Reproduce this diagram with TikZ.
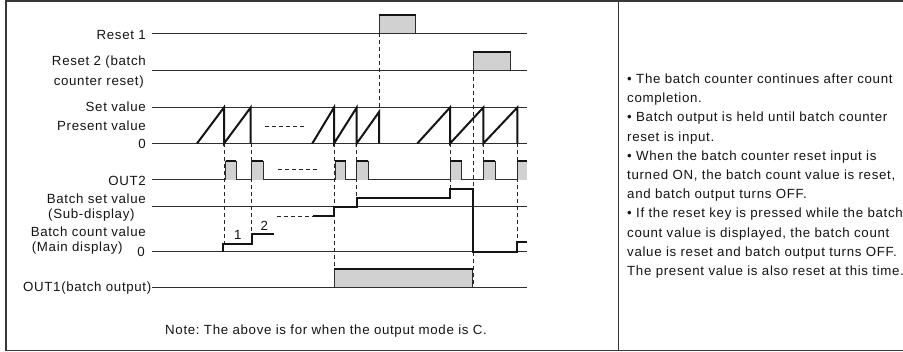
\documentclass[tikz,border=0pt]{standalone}
\usepackage{fontspec}
\setmainfont{Liberation Sans}[LetterSpace=5]
\frenchspacing
\begin{document}
\begin{tikzpicture}[x=1pt,y=-1pt,
  txt/.style={inner sep=0pt, font=\fontsize{13.3}{16}\selectfont, text=black!92},
  frame/.style={line width=1.8pt, draw=black!78},
  base/.style={line width=1pt, draw=black!82},
  heavy/.style={line width=2pt, draw=black!92},
  vdash/.style={line width=0.9pt, draw=black!85, dash pattern=on 4pt off 3pt},
  pfill/.style={fill=black!18},
]
\useasboundingbox (0,0) rectangle (903,352);
% frame
\draw[frame] (903,1) -- (6,1) -- (6,350.5) -- (903,350.5);
\draw[frame] (618.5,1) -- (618.5,350.5);

% labels
\node[txt, anchor=base east] (lr1) at (146,40) {Reset 1};
\node[txt, anchor=base east] (lr2a) at (146,65.5) {Reset 2 (batch};
\node[txt, anchor=base east] (lr2b) at (144,85.5) {counter reset)};
\node[txt, anchor=base east] (lsv) at (146,112) {Set value};
\node[txt, anchor=base east] (lpv) at (146,130.5) {Present value};
\node[txt, anchor=base east] (lz1) at (146,148.5) {0};
\node[txt, anchor=base east] (lo2) at (146,185.3) {OUT2};
\node[txt, anchor=base east] (lbs) at (146,203.6) {Batch set value};
\node[txt, anchor=base west] (lbs2) at (48,219) {(Sub-display)};
\node[txt, anchor=base east] (lbc) at (146,237) {Batch count value};
\node[txt, anchor=base west] (lbc2) at (31.7,252) {(Main display)};
\node[txt, anchor=base east] (lz2) at (145,256.6) {0};
\node[txt, anchor=base east] (lo1) at (151.5,292) {OUT1(batch output)};
\node[txt, anchor=base west] (note) at (165,334.5) {Note: The above is for when the output mode is C.};

% right text
\foreach \t [count=\i from 0] in {%
  {\textbullet{} The batch counter continues after count},
  {completion.},
  {\textbullet{} Batch output is held until batch counter},
  {reset is input.},
  {\textbullet{} When the batch counter reset input is},
  {turned ON, the batch count value is reset,},
  {and batch output turns OFF.},
  {\textbullet{} If the reset key is pressed while the batch},
  {count value is displayed, the batch count},
  {value is reset and batch output turns OFF.},
  {The present value is also reset at this time.}}
  \node[txt, anchor=base west] (r\i) at (627,83.5+19.2*\i) {\t};

% baselines
\foreach \y in {33.5,70.5,107.5,143.5,180,206.7,251.7,287.3}
  \draw[base] (152,\y) -- (527,\y);

% pulses
\newcommand\tpulse[4]{%
  \fill[pfill] (#1,#3) rectangle (#2,#4);
  \draw[base] (#1,#3) -- (#1,#4);
  \draw[base] (#2,#4) -- (#2,#3);
  \draw[heavy] (#1,#4) -- (#2,#4);}
\tpulse{379}{415.7}{33.5}{15}
\tpulse{473.3}{510.7}{70.5}{51.7}
\tpulse{225.7}{236}{180}{161}
\tpulse{251.7}{263.3}{180}{161}
\tpulse{335}{345.7}{180}{161}
\tpulse{356.7}{368.3}{180}{161}
\tpulse{450}{461.7}{180}{161}
\tpulse{483.3}{495}{180}{161}
\fill[pfill] (517.3,180) rectangle (527,161);
\draw[base] (517.3,180) -- (517.3,161);
\draw[heavy] (517.3,161) -- (527,161);
\tpulse{334}{472.5}{287.3}{269}

% dashed verticals
\draw[vdash] (224,143.5) -- (224,244);
\draw[vdash] (251,143.5) -- (251,234.3);
\draw[vdash] (334,143.5) -- (334,269);
\draw[vdash] (356.7,143.5) -- (356.7,197.7);
\draw[vdash] (379,33.5) -- (379,112);
\draw[vdash] (450,143.5) -- (450,189);
\draw[vdash] (473.3,70.5) -- (473.3,287.3);
\draw[vdash] (483.3,143.5) -- (483.3,161);
\draw[vdash] (517.3,143.5) -- (517.3,241.7);

% dashed horizontals
\draw[vdash] (265,126) -- (305,126);
\draw[vdash] (278,169.5) -- (318,169.5);
\draw[vdash] (276.7,216) -- (313,216);

% sawtooth
\draw[heavy] (197,143.5) -- (224,107.5) -- (224,143.5) -- (250.7,107.5) -- (250.7,143.5);
\draw[heavy] (312.3,143.5) -- (334,107.5) -- (334,143.5) -- (356.7,107.5) -- (356.7,143.5) -- (379,112) -- (379,143.5);
\draw[heavy] (417.3,143.5) -- (450,107.5) -- (450,143.5) -- (483.3,107.5) -- (483.3,143.5) -- (517.3,107.5) -- (517.3,143.5);

% batch count
\draw[heavy] (223.3,251.7) -- (223.3,244) -- (251.7,244) -- (251.7,234.3) -- (274,234.3);
\node[txt, anchor=base] (n1) at (237.7,239.5) {1};
\node[txt, anchor=base] (n2) at (264.3,230.5) {2};
\draw[heavy] (313,216) -- (334,216) -- (334,206.7) -- (356.7,206.7) -- (356.7,197.7) -- (450,197.7) -- (450,189) -- (472.5,189) -- (472.5,251.7) -- (517.3,251.7) -- (517.3,241.7) -- (527,241.7);
\end{tikzpicture}
\end{document}
